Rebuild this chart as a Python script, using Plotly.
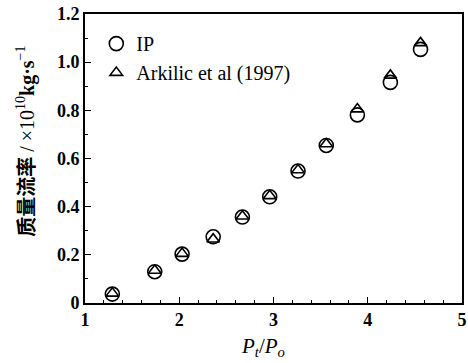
import plotly.graph_objects as go

# Data
pressure_ratio = [1.29, 1.74, 2.03, 2.36, 2.67, 2.96, 3.26, 3.56, 3.89, 4.24, 4.56]
ip_flow = [0.037, 0.130, 0.203, 0.275, 0.357, 0.441, 0.548, 0.654, 0.781, 0.916, 1.053]
arkilic_flow = [0.040, 0.135, 0.205, 0.265, 0.360, 0.445, 0.552, 0.660, 0.805, 0.945, 1.080]

y_tickvals = [0, 0.2, 0.4, 0.6, 0.8, 1.0, 1.2]
y_ticktext = ["0", "0.2", "0.4", "0.6", "0.8", "1.0", "1.2"]
x_tickvals = [1, 2, 3, 4, 5]
x_ticktext = ["1", "2", "3", "4", "5"]

serif = "Liberation Serif"

fig = go.Figure()
fig.add_trace(go.Scatter(
    x=pressure_ratio, y=arkilic_flow, mode="markers", name="Arkilic et al (1997)",
    marker=dict(symbol="triangle-up-open", size=11, color="black", line=dict(width=1.6, color="black")),
))
fig.add_trace(go.Scatter(
    x=pressure_ratio, y=ip_flow, mode="markers", name="IP",
    marker=dict(symbol="circle-open", size=14, color="black", line=dict(width=1.6, color="black")),
))

fig.update_layout(
    width=468, height=363,
    margin=dict(l=85, r=1, t=14, b=60),
    paper_bgcolor="white", plot_bgcolor="white",
    font=dict(family=serif, size=17, color="black"),
    showlegend=True,
    legend=dict(x=0.03, y=0.965, xanchor="left", yanchor="top",
                traceorder="reversed", bgcolor="rgba(0,0,0,0)",
                font=dict(family=serif, size=20, color="black"),
                itemwidth=30, tracegroupgap=0),
    xaxis=dict(range=[1, 5], tickvals=x_tickvals, ticktext=x_ticktext,
               ticks="inside", ticklen=6, tickwidth=1.2, tickcolor="black",
               showline=True, linecolor="black", linewidth=1.6, mirror=True,
               showgrid=False, zeroline=False, ticklabeloverflow="allow",
               tickfont=dict(family=serif, size=18, color="black", weight="bold"),
               minor=dict(dtick=0.2, ticks="inside", ticklen=3, tickcolor="black", showgrid=False)),
    yaxis=dict(range=[0, 1.2], tickvals=y_tickvals, ticktext=y_ticktext,
               ticks="inside", ticklen=6, tickwidth=1.2, tickcolor="black",
               showline=True, linecolor="black", linewidth=1.6, mirror=True,
               showgrid=False, zeroline=False, ticklabeloverflow="allow",
               tickfont=dict(family=serif, size=18, color="black", weight="bold"),
               minor=dict(dtick=0.1, ticks="inside", ticklen=3, tickcolor="black", showgrid=False)),
)

fig.add_annotation(
    text=("<span style='font-family:Noto Sans CJK SC;font-weight:bold'>质量流率</span>"
          " / ×10<sup>10</sup><b>kg·s</b><sup>−1</sup>"),
    xref="paper", yref="paper", x=-0.16, y=0.56, textangle=-90,
    showarrow=False, xanchor="center", yanchor="middle",
    font=dict(family=serif, size=20, color="black"),
)
fig.add_annotation(
    text="<i>P</i><sub><i>t</i></sub>/<i>P</i><sub><i>o</i></sub>",
    xref="paper", yref="paper", x=0.471, y=-0.205,
    showarrow=False, xanchor="center", yanchor="bottom",
    font=dict(family=serif, size=21, color="black"),
)

fig.write_html("out.html")
